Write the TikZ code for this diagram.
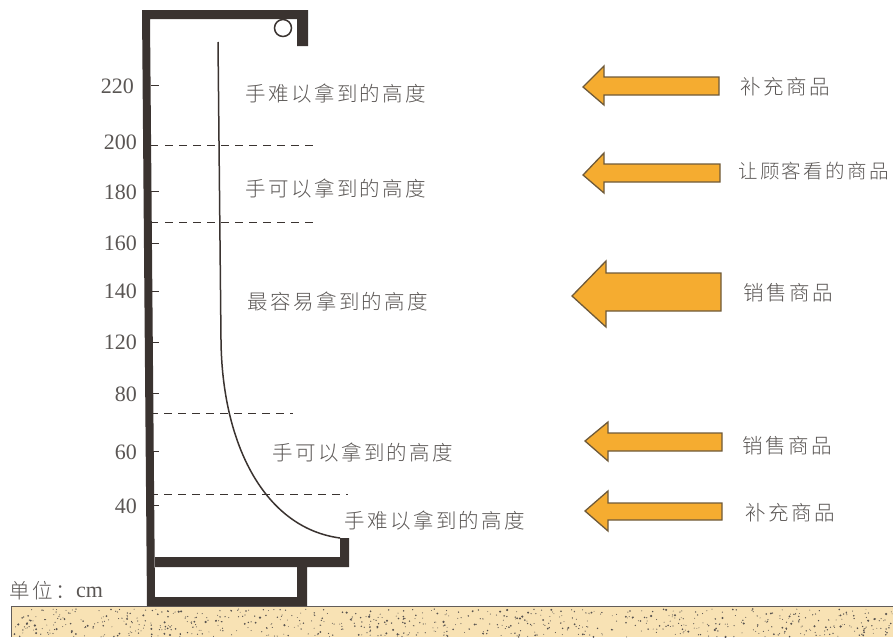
\documentclass[tikz,border=0pt]{standalone}
\usepackage{fontspec}
\setmainfont{Liberation Serif}
\newfontfamily\cjk[LetterSpace=12]{Noto Sans CJK SC Light}
\definecolor{wallc}{HTML}{3A3330}
\definecolor{txtc}{HTML}{5A5654}
\definecolor{arrowf}{HTML}{F5AC30}
\definecolor{arrowd}{HTML}{6E5A3A}
\definecolor{groundf}{HTML}{F8E2B4}
\tikzset{
  wall/.style={fill=wallc,draw=none},
  lev/.style={draw=wallc,line width=1pt,dash pattern=on 8pt off 6pt},
  tick/.style={draw=wallc,line width=1pt},
  num/.style={font=\fontsize{22}{22}\selectfont,text=txtc,inner sep=0pt},
  lab/.style={font=\cjk\fontsize{20.5}{21}\selectfont,text=txtc,inner sep=0pt,anchor=west},
  goods/.style={lab},
  bigarrow/.style={fill=arrowf,draw=arrowd,line width=1.3pt,line join=miter}
}
\begin{document}
\begin{tikzpicture}[x=1pt,y=-1pt]
\useasboundingbox (0,0) rectangle (893,637);
% ground
\fill[groundf] (11,606) rectangle (893,637);
\draw[draw=wallc!80,line width=0.8pt] (893,606) -- (11,606) -- (11,637);
\pgfmathsetseed{4242}
\foreach \i in {1,...,750}{
  \pgfmathsetmacro{\xx}{13+880*rnd}
  \pgfmathsetmacro{\yy}{609+28*rnd}
  \pgfmathsetmacro{\rr}{0.45+0.9*rnd*rnd}
  \fill[wallc!85] (\xx,\yy) circle (\rr);
}
% fixture
\fill[wall] (142,10) -- (308,10) -- (308,46) -- (297,46) -- (297,19) -- (150,19) -- (155,597)
  -- (297,597) -- (297,567) -- (155,567) -- (155,557) -- (340,557) -- (340,538) -- (349,538)
  -- (349,567) -- (307,567) -- (307,606) -- (147,606) -- cycle;
\draw[wallc,line width=1.5pt] (283,28) circle (8.5);
\draw[wallc,line width=1.5pt] (218,42) -- (221,340) .. controls (222,445) and (265,528) .. (340,538);
% ticks
\foreach \y in {85,191,243,291,342,393,451,505}{\draw[tick] (151,\y) -- (159,\y);}
\draw[tick] (150,145) -- (158,145);
\draw[lev] (165,145) -- (316,145);
\draw[tick] (150,222) -- (158,222);
\draw[lev] (165,222) -- (313,222);
\draw[lev] (150,413) -- (293,413);
\draw[lev] (150,494) -- (348,494);
% scale
\node[num,anchor=east] (n220) at (134,86) {220};
\node[num,anchor=east] (n200) at (137,142) {200};
\node[num,anchor=east] (n180) at (137,192) {180};
\node[num,anchor=east] (n160) at (137,243) {160};
\node[num,anchor=east] (n140) at (137,291) {140};
\node[num,anchor=east] (n120) at (137,342) {120};
\node[num,anchor=east] (n80) at (137,394) {80};
\node[num,anchor=east] (n60) at (137,452) {60};
\node[num,anchor=east] (n40) at (137,506) {40};
% heights
\node[lab] (h1) at (245,94) {手难以拿到的高度};
\node[lab] (h2) at (245,189) {手可以拿到的高度};
\node[lab] (h3) at (247,302) {最容易拿到的高度};
\node[lab] (h4) at (272,453) {手可以拿到的高度};
\node[lab] (h5) at (344,521) {手难以拿到的高度};
% arrows
\draw[bigarrow] (583,87) -- (604,66) -- (604,77) -- (719,77) -- (719,95) -- (604,95) -- (604,105) -- cycle;
\draw[bigarrow] (583,175) -- (604,153) -- (604,164) -- (720,164) -- (720,182) -- (604,182) -- (604,193) -- cycle;
\draw[bigarrow] (572,296) -- (606,261) -- (606,273) -- (721,273) -- (721,311) -- (606,311) -- (606,327) -- cycle;
\draw[bigarrow] (585,441) -- (608,422) -- (608,433) -- (722,433) -- (722,451) -- (608,451) -- (608,461) -- cycle;
\draw[bigarrow] (585,511) -- (608,491) -- (608,503) -- (722,503) -- (722,520) -- (608,520) -- (608,531) -- cycle;
% goods
\node[goods] (g1) at (740,87) {补充商品};
\node[goods,font=\cjk\fontsize{19.5}{21}\selectfont] (g2) at (738,171) {让顾客看的商品};
\node[goods] (g3) at (743,293) {销售商品};
\node[goods] (g4) at (742,446) {销售商品};
\node[goods] (g5) at (745,513) {补充商品};
% unit
\node[lab] (unit) at (9,591) {单位：};
\node[num,anchor=west] (cm) at (76,592) {cm};
\end{tikzpicture}
\end{document}
